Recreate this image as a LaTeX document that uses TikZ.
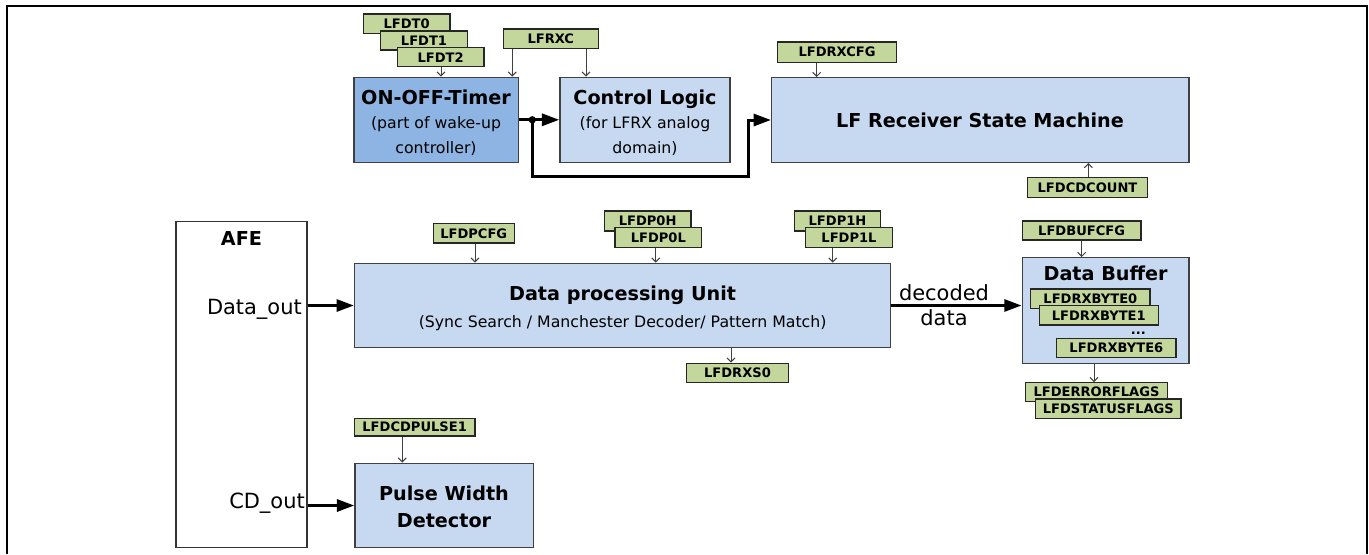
\documentclass[tikz,border=0pt]{standalone}
\usepackage{fontspec}
\setmainfont{DejaVu Sans}
\usetikzlibrary{arrows.meta,fit,calc}
\definecolor{lblue}{HTML}{C6D9F1}
\definecolor{mblue}{HTML}{8DB4E2}
\definecolor{tgreen}{HTML}{C3D69B}
\definecolor{edge}{HTML}{404040}
\newcommand{\fTitle}{\bfseries\fontsize{14.4}{17}\selectfont}
\newcommand{\fSub}{\fontsize{11.8}{14}\selectfont}
\newcommand{\fSide}{\fontsize{15.7}{18}\selectfont}
\newcommand{\fTag}{\bfseries\fontsize{9.8}{11}\selectfont}
\begin{document}
\begin{tikzpicture}[x=0.75pt,y=-0.75pt,
  blk/.style={draw=edge,line width=1.1pt,fill=lblue,inner sep=0pt},
  tagbox/.style={draw=black!85,line width=1pt,fill=tgreen,inner sep=0pt},
  tagtxt/.style={font=\fTag,inner sep=0pt},
  ttl/.style={font=\fTitle,anchor=base,inner sep=0pt},
  sub/.style={font=\fSub,anchor=base,inner sep=0pt},
  side/.style={font=\fSide,anchor=base east,inner sep=0pt},
  sidec/.style={font=\fSide,anchor=base,inner sep=0pt},
  thinarrow/.style={draw=edge,line width=0.75pt,-{Straight Barb[length=3pt,width=6pt]}},
  bigarrow/.style={draw=black,line width=2.25pt,-{Triangle[length=13pt,width=9pt]}},
  dotstyle/.style={circle,fill=black,inner sep=0pt,minimum size=5.5pt},
]
\useasboundingbox (0,0) rectangle (1369,554);
\fill[white] (0,0) rectangle (1369,554);
\draw[line width=1.5pt] (6.5,554) -- (6.5,5.5) -- (1366.5,5.5) -- (1366.5,554);

% blocks
\node[blk,fill=mblue,fit={(354,77.3)(518.3,162.3)}] (timer) {};
\node[blk,fit={(560,77.3)(730,162.3)}] (ctrl) {};
\node[blk,fit={(771.7,77.7)(1189,162.3)}] (lfr) {};
\node[draw=black!80,line width=0.9pt,fill=white,inner sep=0pt,fit={(176,221.5)(307,547.7)}] (afe) {};
\node[blk,fit={(354.6,263.3)(890.7,347.7)}] (dpu) {};
\node[blk,fit={(1022.3,257.7)(1189,363.3)}] (db) {};
\node[blk,fit={(355,463.3)(533.3,547.7)}] (pwd) {};

% block texts
\node[ttl] (timerT) at (436,104) {ON-OFF-Timer};
\node[sub] (timerS1) at (436,128.3) {(part of wake-up};
\node[sub] (timerS2) at (436,153.3) {controller)};
\node[ttl] (ctrlT) at (645,104) {Control Logic};
\node[sub] (ctrlS1) at (645,128.3) {(for LFRX analog};
\node[sub] (ctrlS2) at (645,153.3) {domain)};
\node[ttl] (lfrT) at (980,127.3) {LF Receiver State Machine};
\node[ttl] (afeT) at (241.5,245) {AFE};
\node[ttl] (dpuT) at (622.6,300) {Data processing Unit};
\node[sub] (dpuS) at (622.6,327) {(Sync Search / Manchester Decoder/ Pattern Match)};
\node[ttl] (dbT) at (1105.6,280.7) {Data Buffer};
\node[ttl] (pwdT1) at (444,500) {Pulse Width};
\node[ttl] (pwdT2) at (444,527.7) {Detector};
\node[side] (dataout) at (302,314) {Data\_out};
\node[side] (cdout) at (305,508) {CD\_out};
\node[sidec] (dec1) at (944,300) {decoded};
\node[sidec] (dec2) at (944,325) {data};

% tags
\node[tagbox,fit={(363.3,14)(450,33.3)},label={[tagtxt]center:LFDT0}] (t0) {};
\node[tagbox,fit={(380.7,31)(467.3,50)},label={[tagtxt]center:LFDT1}] (t1) {};
\node[tagbox,fit={(397.3,47.7)(484,66.7)},label={[tagtxt]center:LFDT2}] (t2) {};
\node[tagbox,fit={(503.3,29)(598.3,48.3)},label={[tagtxt]center:LFRXC}] (lfrxc) {};
\node[tagbox,fit={(777.3,42)(896.7,62.3)},label={[tagtxt]center:LFDRXCFG}] (rxcfg) {};
\node[tagbox,fit={(1027.7,177.7)(1147.3,197.3)},label={[tagtxt]center:LFDCDCOUNT}] (cdcount) {};
\node[tagbox,fit={(433.2,223.5)(514.3,243)},label={[tagtxt]center:LFDPCFG}] (dpcfg) {};
\node[tagbox,fit={(604.3,211)(691,231)},label={[tagtxt]center:LFDP0H}] (p0h) {};
\node[tagbox,fit={(615,227.7)(701.7,247.7)},label={[tagtxt]center:LFDP0L}] (p0l) {};
\node[tagbox,fit={(794.3,211)(880.7,231)},label={[tagtxt]center:LFDP1H}] (p1h) {};
\node[tagbox,fit={(805.7,227.7)(892.3,247.7)},label={[tagtxt]center:LFDP1L}] (p1l) {};
\node[tagbox,fit={(686.7,363.3)(788.3,382.7)},label={[tagtxt]center:LFDRXS0}] (rxs0) {};
\node[tagbox,fit={(1022.3,221)(1141,240)},label={[tagtxt]center:LFDBUFCFG}] (bufcfg) {};
\node[tagbox,fit={(1030.7,289)(1150,308.3)},label={[tagtxt]center:LFDRXBYTE0}] (b0) {};
\node[tagbox,fit={(1039.3,305.7)(1158.3,325)},label={[tagtxt]center:LFDRXBYTE1}] (b1) {};
\node[font=\fTag,anchor=base,inner sep=0pt] (dots) at (1138.3,334) {...};
\node[tagbox,fit={(1056.7,338.3)(1176,357.7)},label={[tagtxt]center:LFDRXBYTE6}] (b6) {};
\node[tagbox,fit={(1025.7,382.7)(1167.3,401.7)},label={[tagtxt]center:LFDERRORFLAGS}] (errf) {};
\node[tagbox,fit={(1035.7,399)(1181,418.3)},label={[tagtxt]center:LFDSTATUSFLAGS}] (statf) {};
\node[tagbox,fit={(354.3,418.3)(475,436)},label={[tagtxt]center:LFDCDPULSE1}] (cdpulse) {};

% tag connectors
\coordinate (xa) at (441,0);
\coordinate (xb) at (512.3,0);
\coordinate (xc) at (586,0);
\coordinate (xd) at (816.7,0);
\coordinate (xe) at (1088.3,0);
\coordinate (xf) at (475,0);
\coordinate (xg) at (655.7,0);
\coordinate (xh) at (832.7,0);
\coordinate (xi) at (731,0);
\coordinate (xj) at (1081.7,0);
\coordinate (xk) at (1094,0);
\coordinate (xl) at (402.3,0);
\draw[thinarrow] (xa |- t2.south) -- (xa |- timer.north);
\draw[thinarrow] (xb |- lfrxc.south) -- (xb |- timer.north);
\draw[thinarrow] (xc |- lfrxc.south) -- (xc |- ctrl.north);
\draw[thinarrow] (xd |- rxcfg.south) -- (xd |- lfr.north);
\draw[thinarrow] (xe |- cdcount.north) -- (xe |- lfr.south);
\draw[thinarrow] (xf |- dpcfg.south) -- (xf |- dpu.north);
\draw[thinarrow] (xg |- p0l.south) -- (xg |- dpu.north);
\draw[thinarrow] (xh |- p1l.south) -- (xh |- dpu.north);
\draw[thinarrow] (xi |- dpu.south) -- (xi |- rxs0.north);
\draw[thinarrow] (xj |- bufcfg.south) -- (xj |- db.north);
\draw[thinarrow] (xk |- db.south) -- (xk |- errf.north);
\draw[thinarrow] (xl |- cdpulse.south) -- (xl |- pwd.north);

% main connectors
\draw[bigarrow] (timer.east) -- (ctrl.west);
\coordinate (dx) at (532.3,0);
\node[dotstyle] (dot) at (dx |- timer.east) {};
\coordinate (fbturn) at (748.3,176.7);
\draw[bigarrow] (dot.center) |- (fbturn) |- (lfr.west);
\draw[bigarrow] (afe.east |- dpu.west) -- (dpu.west);
\draw[bigarrow] (afe.east |- pwd.west) -- (pwd.west);
\draw[bigarrow] (dpu.east) -- (db.west |- dpu.east);
\end{tikzpicture}
\end{document}
